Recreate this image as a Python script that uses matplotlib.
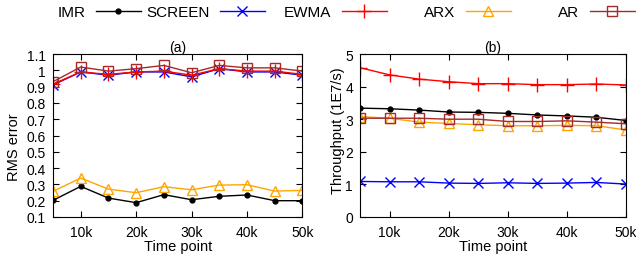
import matplotlib
matplotlib.use("Agg")
import matplotlib.pyplot as plt

plt.rcParams['font.family'] = ['Liberation Sans', 'DejaVu Sans']

time_points = [5000, 10000, 15000, 20000, 25000, 30000, 35000, 40000, 45000, 50000]
xtick_vals = [10000, 20000, 30000, 40000, 50000]
xtick_labels = ['10k', '20k', '30k', '40k', '50k']

# (a) RMS error
rms_imr = [0.202, 0.288, 0.216, 0.188, 0.237, 0.206, 0.227, 0.235, 0.200, 0.200]
rms_screen = [0.91, 0.99, 0.97, 0.99, 0.99, 0.96, 1.01, 0.99, 0.99, 0.97]
rms_ewma = [0.915, 0.99, 0.975, 0.99, 0.995, 0.97, 1.01, 0.995, 0.995, 0.975]
rms_arx = [0.257, 0.339, 0.271, 0.249, 0.286, 0.267, 0.296, 0.298, 0.259, 0.263]
rms_ar = [0.93, 1.02, 0.995, 1.01, 1.03, 0.985, 1.03, 1.015, 1.015, 0.995]

# (b) Throughput (1E7/s)
tp_imr = [3.34, 3.32, 3.28, 3.22, 3.21, 3.18, 3.13, 3.10, 3.06, 2.96]
tp_screen = [1.09, 1.08, 1.08, 1.04, 1.03, 1.05, 1.03, 1.04, 1.06, 1.01]
tp_ewma = [4.58, 4.36, 4.23, 4.15, 4.09, 4.09, 4.06, 4.06, 4.08, 4.05]
tp_arx = [3.08, 3.03, 2.91, 2.87, 2.83, 2.80, 2.80, 2.81, 2.80, 2.67]
tp_ar = [3.03, 3.03, 3.03, 3.00, 3.00, 2.93, 2.93, 2.95, 2.91, 2.86]

styles = [
    ('IMR', 'black', 'o', 3.5),
    ('SCREEN', 'blue', 'x', 7),
    ('EWMA', 'red', '+', 10),
    ('ARX', 'orange', '^', 7),
    ('AR', '#A52A2A', 's', 7),
]

fig = plt.figure(figsize=(6.36, 2.55), dpi=100)
ax1 = fig.add_axes([0.0833, 0.1451, 0.3923, 0.6392])
ax2 = fig.add_axes([0.566, 0.1451, 0.4182, 0.6392])

series_a = [rms_imr, rms_screen, rms_ewma, rms_arx, rms_ar]
series_b = [tp_imr, tp_screen, tp_ewma, tp_arx, tp_ar]

handles = []
for (name, col, mk, ms), ya, yb in zip(styles, series_a, series_b):
    face = 'none' if mk in '^s' else col
    h, = ax1.plot(time_points, ya, color=col, marker=mk, markersize=ms, lw=1,
                  markerfacecolor=face, label=name)
    ax2.plot(time_points, yb, color=col, marker=mk, markersize=ms, lw=1,
             markerfacecolor=face)
    handles.append(h)

for ax in (ax1, ax2):
    ax.set_xlim(5000, 50000)
    ax.set_xticks(xtick_vals)
    ax.set_xticklabels(xtick_labels)
    ax.tick_params(direction='in', top=True, right=True, length=4, labelsize=10)
    ax.tick_params(axis='x', pad=6)
    ax.tick_params(axis='y', pad=5)
    ax.set_xlabel('Time point', fontsize=10.5, labelpad=0)

ax1.set_ylim(0.1, 1.1)
ax1.set_yticks([0.1, 0.2, 0.3, 0.4, 0.5, 0.6, 0.7, 0.8, 0.9, 1.0, 1.1])
ax1.set_yticklabels(['0.1', '0.2', '0.3', '0.4', '0.5', '0.6', '0.7', '0.8', '0.9', '1', '1.1'])
ax1.set_ylabel('RMS error', fontsize=10.5)
ax1.yaxis.set_label_coords(-0.128, 0.436)
ax1.set_title('(a)', fontsize=10, pad=2)

ax2.set_ylim(0, 5)
ax2.set_yticks([0, 1, 2, 3, 4, 5])
ax2.set_ylabel('Throughput (1E7/s)', fontsize=10.5)
ax2.yaxis.set_label_coords(-0.056, 0.534)
ax2.set_title('(b)', fontsize=10, pad=2)

# gnuplot-style key: text right-justified, then the sample
key_right_px = [141, 265, 387, 511, 635]
for h, xr in zip(handles, key_right_px):
    fig.legend(handles=[h], labels=[h.get_label()], loc='center right',
               bbox_to_anchor=(xr / 636, 0.949), frameon=False, markerfirst=False,
               fontsize=11, handlelength=2.95, handletextpad=0.7,
               borderpad=0, borderaxespad=0)

fig.savefig('out.png', dpi=100)
